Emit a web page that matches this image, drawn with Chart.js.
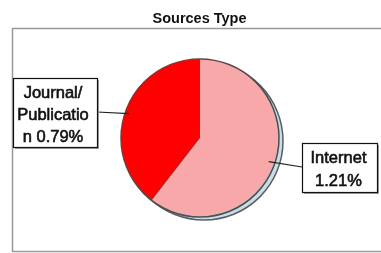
<!DOCTYPE html>
<html><head><meta charset="utf-8">
<script src="https://cdn.jsdelivr.net/npm/chart.js@4/dist/chart.umd.min.js"></script>
<style>html,body{margin:0;padding:0;background:#fff}canvas{display:block}</style>
</head><body>
<canvas id="c" width="381" height="253"></canvas>
<script>
const chartTitle = 'Sources Type';
const categories = ['Internet', 'Journal/Publication'];
const values = [1.21, 0.79];
const sliceColors = ['#f8a8a9', '#fe0000'];
// label text as shown in the callout boxes (wrapped like the original)
const labelLines = [
  ['Internet', values[0].toFixed(2) + '%'],
  ['Journal/', 'Publicatio', 'n ' + values[1].toFixed(2) + '%']
];
// callout boxes
const boxes = [
  {x: 302, y: 143, w: 75, h: 49, ax: 302, ay: 167, tx: 338.5, base: [163, 185.5], rf: 0.92},
  {x: 13, y: 78, w: 84, h: 69, ax: 97, ay: 112, tx: 53, base: [97.5, 119.5, 141.5], rf: 0.95}
];

const deco = {
  id: 'deco',
  beforeDatasetsDraw(chart) {
    const ctx = chart.ctx;
    ctx.save();
    ctx.strokeStyle = '#999';
    ctx.lineWidth = 1.5;
    ctx.strokeRect(12.5, 28.5, 390, 223);
    ctx.fillStyle = '#111';
    ctx.font = 'bold 14.5px "Liberation Sans", Arial, sans-serif';
    ctx.textAlign = 'center';
    ctx.textBaseline = 'alphabetic';
    ctx.fillText(chartTitle, 199.5, 23);
    const arc = chart.getDatasetMeta(0).data[0];
    const {x, y, outerRadius} = arc.getProps(['x', 'y', 'outerRadius'], true);
    ctx.beginPath();
    ctx.arc(x + 4, y + 3, outerRadius, 0, Math.PI * 2);
    ctx.fillStyle = '#c9dde6';
    ctx.fill();
    ctx.strokeStyle = '#55606a';
    ctx.lineWidth = 1.5;
    ctx.stroke();
    ctx.restore();
  },
  afterDatasetsDraw(chart) {
    const ctx = chart.ctx;
    const meta = chart.getDatasetMeta(0);
    const a0 = meta.data[0].getProps(['x', 'y', 'outerRadius'], true);
    ctx.save();
    ctx.beginPath();
    ctx.arc(a0.x, a0.y, a0.outerRadius, 0, Math.PI * 2);
    ctx.strokeStyle = '#4d4d4d';
    ctx.lineWidth = 1.5;
    ctx.stroke();
    meta.data.forEach((el, i) => {
      const p = el.getProps(['x', 'y', 'startAngle', 'endAngle', 'outerRadius'], true);
      const b = boxes[i];
      const mid = (p.startAngle + p.endAngle) / 2;
      const px = p.x + Math.cos(mid) * p.outerRadius * b.rf;
      const py = p.y + Math.sin(mid) * p.outerRadius * b.rf;
      ctx.beginPath();
      ctx.moveTo(b.ax, b.ay);
      ctx.lineTo(px, py);
      ctx.strokeStyle = '#222';
      ctx.lineWidth = 1.2;
      ctx.stroke();
      ctx.fillStyle = '#a0a0a0';
      ctx.fillRect(b.x + 2, b.y + 2, b.w, b.h);
      ctx.fillStyle = '#fff';
      ctx.fillRect(b.x, b.y, b.w, b.h);
      ctx.strokeStyle = '#111';
      ctx.lineWidth = 1.2;
      ctx.strokeRect(b.x + 0.5, b.y + 0.5, b.w, b.h);
      ctx.fillStyle = '#111';
      ctx.strokeStyle = '#111';
      ctx.lineWidth = 0.6;
      ctx.font = '16.5px "Liberation Sans", Arial, sans-serif';
      ctx.textAlign = 'center';
      labelLines[i].forEach((t, k) => {
        ctx.fillText(t, b.tx, b.base[k]);
        ctx.strokeText(t, b.tx, b.base[k]);
      });
    });
    ctx.restore();
  }
};

new Chart(document.getElementById('c'), {
  type: 'pie',
  data: {
    labels: categories,
    datasets: [{data: values, backgroundColor: sliceColors, borderWidth: 0, hoverOffset: 0}]
  },
  options: {
    responsive: false,
    animation: false,
    events: [],
    layout: {padding: {left: 121, top: 59, right: 102, bottom: 36}},
    plugins: {legend: {display: false}, title: {display: false}, tooltip: {enabled: false}}
  },
  plugins: [deco]
});
</script>
</body></html>
